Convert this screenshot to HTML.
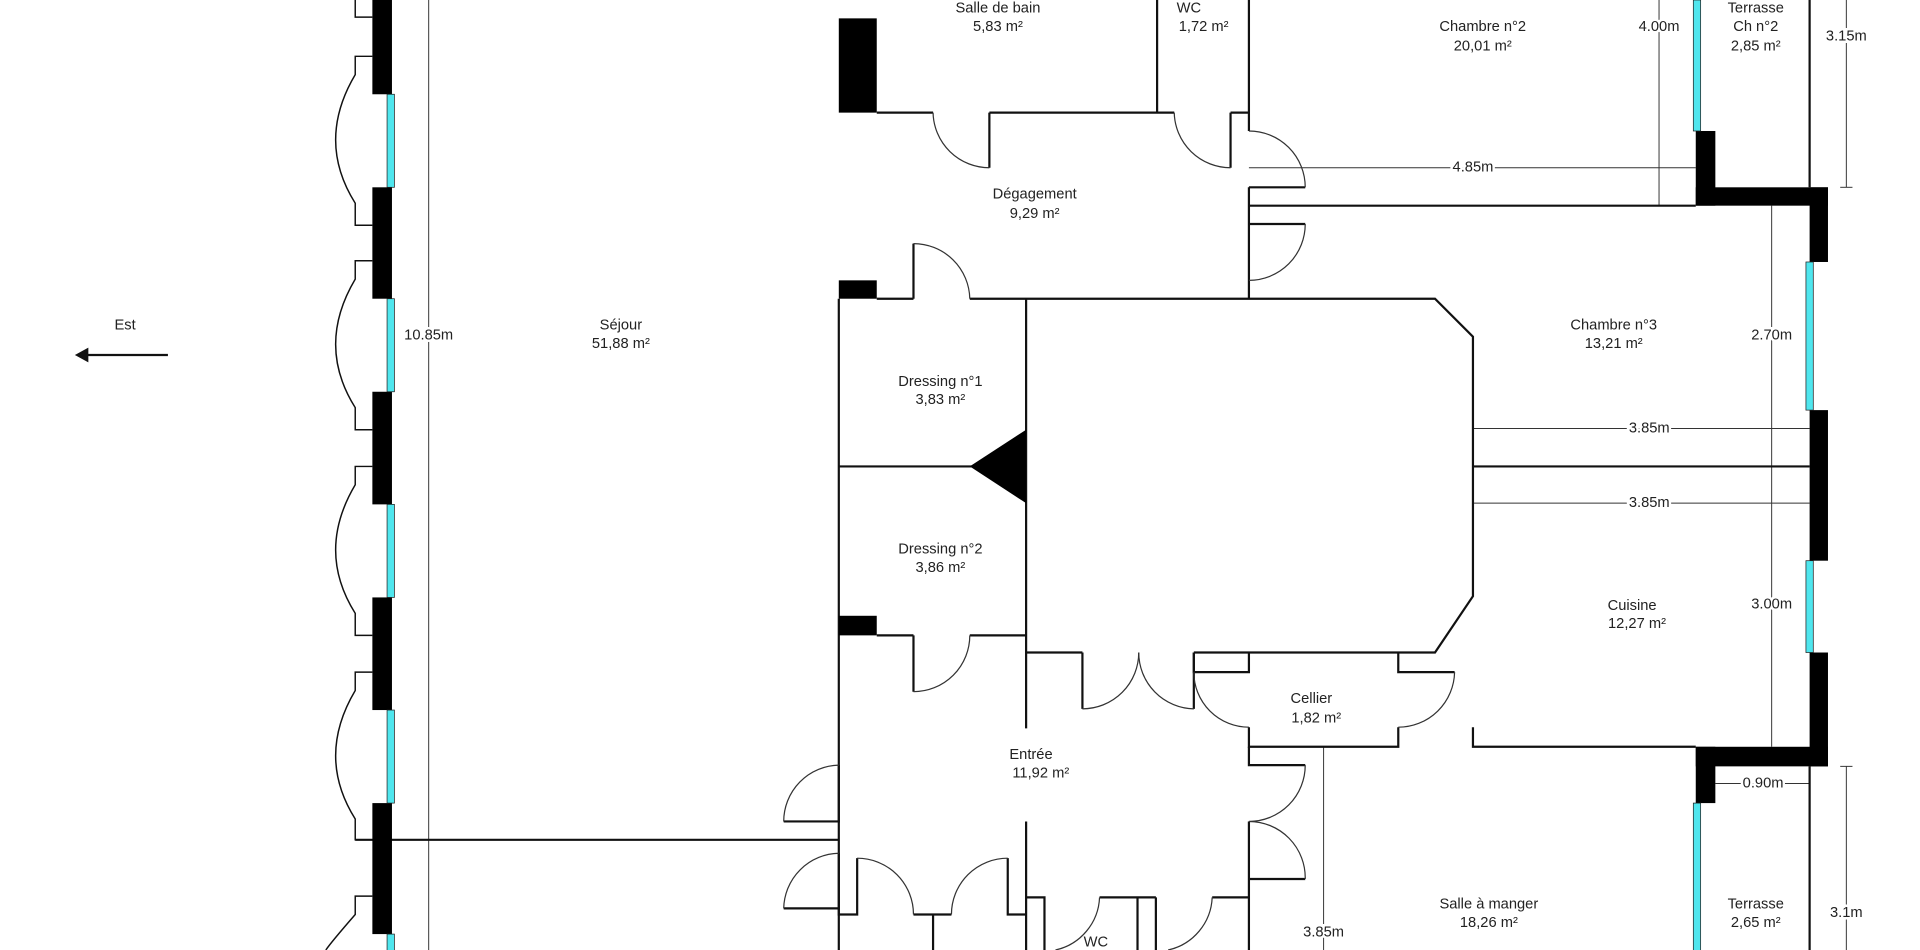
<!DOCTYPE html>
<html><head><meta charset="utf-8"><style>
html,body{margin:0;padding:0;background:#fff;overflow:hidden}
svg{display:block}
text{font-family:"Liberation Sans",sans-serif;font-size:12px;fill:#222;text-anchor:middle;dominant-baseline:middle}
.d{paint-order:stroke;stroke:#fff;stroke-width:4px}
</style></head><body>
<svg width="1920" height="950" viewBox="0 0 1568 776" xmlns="http://www.w3.org/2000/svg">
<rect width="1568" height="776" fill="#fff"/>
<!-- dimension lines -->
<g stroke="#333" stroke-width="0.8" fill="none">
<line x1="350" y1="0" x2="350" y2="776"/>
<line x1="1020" y1="137" x2="1385" y2="137"/>
<line x1="1355" y1="0" x2="1355" y2="168"/>
<line x1="1508" y1="0" x2="1508" y2="153"/><line x1="1503" y1="153" x2="1513" y2="153"/>
<line x1="1447" y1="168" x2="1447" y2="610"/>
<line x1="1203" y1="350" x2="1478" y2="350"/>
<line x1="1203" y1="411" x2="1478" y2="411"/>
<line x1="1401" y1="640" x2="1478" y2="640"/>
<line x1="1508" y1="626" x2="1508" y2="776"/><line x1="1503" y1="626" x2="1513" y2="626"/>
<line x1="1081" y1="610" x2="1081" y2="776"/>
</g>
<!-- thin walls -->
<g stroke="#111" stroke-width="1.8" fill="none">
<path d="M685 244V776"/>
<path d="M716 92H762M808 92H945M945 0V92M945 92H959M1005 92H1020M1020 0V107M1020 153V229M1020 229V244"/>
<path d="M808 92V137M1005 92V137"/>
<path d="M1020 153H1066M1020 183H1066M1020 168H1385"/>
<path d="M716 244H746M746 199V244M792 244H1172L1203 275V487L1172 533H975M884 533H838M838 244V595M838 671V776"/>
<path d="M685 381H838M1203 381H1478"/>
<path d="M716 519H746M746 519V565M792 519H838"/>
<path d="M884 533V579M975 533V579"/>
<path d="M975 533V549H1020V533M1020 594V610H1142V594M1142 533V549H1188"/>
<path d="M1203 594V610H1385"/>
<path d="M1020 610V625H1066M1020 671V718H1066M1020 718V776"/>
<path d="M685 625V671H640M685 697V742H640M685 742V747H700V701M746 747H777M762 747V776M823 701V747H838"/>
<path d="M838 733H853V776M898 733H944M929 733V776M944 733V776M990 733H1020"/>
<path d="M290 686H685"/>
<path d="M1478 0V153M1478 626V776"/>
</g>
<!-- door arcs -->
<g stroke="#333" stroke-width="1" fill="none">
<path d="M762 92A46 46 0 0 0 808 137"/>
<path d="M959 92A46 46 0 0 0 1005 137"/>
<path d="M1020 107A46 46 0 0 1 1066 153"/>
<path d="M1066 183A46 46 0 0 1 1020 229"/>
<path d="M746 199A46 46 0 0 1 792 244"/>
<path d="M746 565A46 46 0 0 0 792 519"/>
<path d="M884 579A46 46 0 0 0 930 533"/>
<path d="M975 579A46 46 0 0 1 930 533"/>
<path d="M975 549A45 45 0 0 0 1020 594"/>
<path d="M1188 549A46 46 0 0 1 1142 594"/>
<path d="M1066 625A46 46 0 0 1 1020 671"/>
<path d="M1020 671A46 46 0 0 1 1066 718"/>
<path d="M685 625A46 46 0 0 0 640 671"/>
<path d="M685 697A46 46 0 0 0 640 742"/>
<path d="M700 701A46 46 0 0 1 746 747"/>
<path d="M823 701A46 46 0 0 0 777 747"/>
<path d="M898 733A46 46 0 0 1 862 776"/>
<path d="M990 733A46 46 0 0 1 954 776"/>
</g>
<!-- left outer windows swing outlines -->
<g stroke="#111" stroke-width="1.2" fill="none">
<path d="M290 0V14H304"/>
<path d="M304 46H290V61Q258 115 290 166V184H304"/>
<path d="M304 213H290V228Q258 282 290 333V351H304"/>
<path d="M304 381H290V396Q258 450 290 501V519H304"/>
<path d="M304 549H290V564Q258 618 290 669V686H304"/>
<path d="M304 732H290V747Q270 770 266 776"/>
</g>
<!-- left wall -->
<g fill="#000">
<rect x="304" y="0" width="16" height="77"/>
<rect x="304" y="153" width="16" height="91"/>
<rect x="304" y="320" width="16" height="92"/>
<rect x="304" y="488" width="16" height="92"/>
<rect x="304" y="656" width="16" height="107"/>
</g>
<g fill="#4fe6ee" stroke="#222" stroke-width="0.6">
<rect x="316" y="77" width="6" height="76"/>
<rect x="316" y="244" width="6" height="76"/>
<rect x="316" y="412" width="6" height="76"/>
<rect x="316" y="580" width="6" height="76"/>
<rect x="316" y="763" width="6" height="20"/>
</g>
<!-- interior black blocks -->
<g fill="#000">
<rect x="685" y="15" width="31" height="77"/>
<rect x="685" y="229" width="31" height="15"/>
<rect x="685" y="503" width="31" height="16"/>
<polygon points="792,381 838,351 838,411"/>
<!-- right walls -->
<rect x="1385" y="107" width="16" height="61"/>
<rect x="1385" y="153" width="108" height="15"/>
<rect x="1478" y="153" width="15" height="61"/>
<rect x="1478" y="335" width="15" height="123"/>
<rect x="1478" y="533" width="15" height="93"/>
<rect x="1385" y="610" width="108" height="16"/>
<rect x="1385" y="610" width="16" height="46"/>
</g>
<g fill="#4fe6ee" stroke="#222" stroke-width="0.6">
<rect x="1383" y="0" width="6" height="107"/>
<rect x="1475" y="214" width="6" height="121"/>
<rect x="1475" y="458" width="6" height="75"/>
<rect x="1383" y="656" width="6" height="130"/>
</g>
<!-- compass -->
<line x1="137" y1="290" x2="70" y2="290" stroke="#111" stroke-width="1.8"/>
<polygon points="61,290 72,284 72,296" fill="#111"/>
<text x="102" y="266">Est</text>
<!-- labels -->
<text x="507" y="266">Séjour</text><text x="507" y="281">51,88  m²</text>
<text x="815" y="7">Salle de bain</text><text x="815" y="22">5,83  m²</text>
<text x="971" y="7">WC</text><text x="983" y="22">1,72  m²</text>
<text x="1211" y="22">Chambre n°2</text><text x="1211" y="38">20,01  m²</text>
<text x="1434" y="7">Terrasse</text><text x="1434" y="22">Ch n°2</text><text x="1434" y="38">2,85  m²</text>
<text x="845" y="159">Dégagement</text><text x="845" y="175">9,29  m²</text>
<text x="1318" y="266">Chambre n°3</text><text x="1318" y="281">13,21  m²</text>
<text x="768" y="312">Dressing n°1</text><text x="768" y="327">3,83  m²</text>
<text x="768" y="449">Dressing n°2</text><text x="768" y="464">3,86  m²</text>
<text x="1333" y="495">Cuisine</text><text x="1337" y="510">12,27  m²</text>
<text x="1071" y="571">Cellier</text><text x="1075" y="587">1,82  m²</text>
<text x="842" y="617">Entrée</text><text x="850" y="632">11,92  m²</text>
<text x="895" y="770">WC</text>
<text x="1216" y="739">Salle à manger</text><text x="1216" y="754">18,26  m²</text>
<text x="1434" y="739">Terrasse</text><text x="1434" y="754">2,65  m²</text>
<!-- dimension labels -->
<text class="d" x="350" y="274">10.85m</text>
<text class="d" x="1203" y="137">4.85m</text>
<text class="d" x="1355" y="22">4.00m</text>
<text class="d" x="1508" y="30">3.15m</text>
<text class="d" x="1447" y="274">2.70m</text>
<text class="d" x="1447" y="494">3.00m</text>
<text class="d" x="1347" y="350">3.85m</text>
<text class="d" x="1347" y="411">3.85m</text>
<text class="d" x="1440" y="640">0.90m</text>
<text class="d" x="1508" y="746">3.1m</text>
<text class="d" x="1081" y="762">3.85m</text>
</svg>
</body></html>
